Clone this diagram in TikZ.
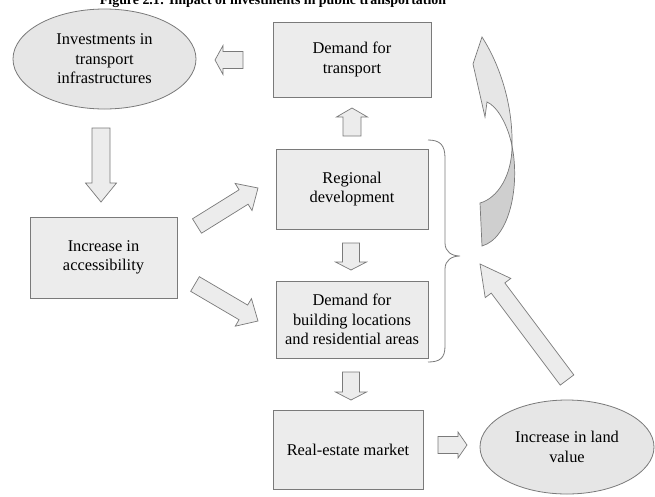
\documentclass[tikz,border=0pt]{standalone}
\usepackage{fontspec}
\setmainfont{Liberation Serif}
\usetikzlibrary{shapes.geometric,calc}
\definecolor{boxfill}{HTML}{ECECEC}
\definecolor{ellfill}{HTML}{E6E6E6}
\definecolor{edgec}{HTML}{7A7A7A}
\definecolor{darkfill}{HTML}{CFCFCF}
\tikzset{
  txt/.style={align=center, font=\fontsize{16.4}{19.5}\selectfont},
  box/.style={txt, draw=edgec, fill=boxfill, line width=0.8pt, inner sep=0pt},
  oval/.style={txt, ellipse, draw=edgec, fill=ellfill, line width=0.8pt, inner sep=0pt},
  blockarrow/.style={draw=edgec, fill=boxfill, line width=0.7pt, line join=miter},
  bracestyle/.style={draw=edgec, line width=0.8pt},
}
% #1 tail, #2 tip, #3 shaft half width, #4 head half width, #5 head length
\newcommand{\blockarr}[5]{%
  \path ($(#2)!#5!(#1)$) coordinate (hb);
  \draw[blockarrow] ($(#1)!#3!90:(#2)$) -- ($(hb)!#3!-90:(#1)$) -- ($(hb)!#4!-90:(#1)$)
    -- (#2) -- ($(hb)!#4!90:(#1)$) -- ($(hb)!#3!90:(#1)$) -- ($(#1)!#3!-90:(#2)$) -- cycle;
}
\begin{document}
\begin{tikzpicture}[x=1pt,y=-1pt]
\clip (0,0) rectangle (655,496);
\fill[white] (0,0) rectangle (655,496);

% title (cut off at top, as in the reference)
\node[font=\bfseries\fontsize{13.9}{16}\selectfont, anchor=base, inner sep=0pt] (title) at (273,4)
  {Figure 2.1: Impact of investments in public transportation};

% nodes
\node[oval, minimum width=183pt, minimum height=100pt] (inv) at (104.5,59)
  {Investments in\\transport\\infrastructures};
\node[box, minimum width=158pt, minimum height=75pt] (demT) at (352,59.5)
  {Demand for\\transport};
\node[box, minimum width=152pt, minimum height=80pt] (reg) at (352,189)
  {Regional\\development};
\node[box, minimum width=147pt, minimum height=81pt] (acc) at (103.5,257.5)
  {Increase in\\accessibility};
\node[box, minimum width=152pt, minimum height=77pt] (demB) at (352,319.5)
  {Demand for\\building locations\\and residential areas};
\node[box, minimum width=150pt, minimum height=79pt] (real) at (348,449.5)
  {Real-estate market};
\node[oval, minimum width=174pt, minimum height=94pt] (land) at (567,447)
  {Increase in land\\value};

% arrow ends
\coordinate (a1t) at (243,60);   \coordinate (a1h) at (215,60);
\coordinate (a2t) at (101,128);  \coordinate (a2h) at (101,202);
\coordinate (a3t) at (352,136);  \coordinate (a3h) at (352,108);
\coordinate (a4t) at (351,243);  \coordinate (a4h) at (351,270);
\coordinate (a5t) at (351,372);  \coordinate (a5h) at (351,400);
\coordinate (a6t) at (438,445);  \coordinate (a6h) at (467,445);
\coordinate (a7t) at (197,226);  \coordinate (a7h) at (258,188);
\coordinate (a8t) at (195,284);  \coordinate (a8h) at (258,321);
\coordinate (a9t) at (567,380);  \coordinate (a9h) at (480,264);

\blockarr{a1t}{a1h}{8.5pt}{14.5pt}{8pt}
\blockarr{a2t}{a2h}{9pt}{15.5pt}{19pt}
\blockarr{a3t}{a3h}{9pt}{15.5pt}{9pt}
\blockarr{a4t}{a4h}{8.5pt}{15.5pt}{8pt}
\blockarr{a5t}{a5h}{8.5pt}{15.5pt}{8pt}
\blockarr{a6t}{a6h}{8.5pt}{13pt}{9pt}
\blockarr{a7t}{a7h}{8.5pt}{16pt}{17pt}
\blockarr{a8t}{a8h}{8.5pt}{16pt}{17pt}
\blockarr{a9t}{a9h}{8.5pt}{16pt}{30pt}

% brace
\draw[bracestyle] (428,140) .. controls (440,140) and (445,145) .. (445,158)
  -- (445,243) .. controls (445,252) and (452,256) .. (460,256)
  .. controls (452,256) and (445,260) .. (445,269)
  -- (445,346) .. controls (445,358) and (440,362) .. (428,362);

% curved arrow
\draw[draw=edgec, fill=darkfill, line width=0.7pt, line join=miter]
  (512,146) .. controls (512,175) and (498,198) .. (480,203) -- (482,246)
  .. controls (510,238) and (520,185) .. (512,146) -- cycle;
\draw[draw=edgec, fill=ellfill, line width=0.7pt, line join=miter]
  (512,146) .. controls (508,125) and (497,106) .. (487,102) -- (485,117) -- (473,64) -- (482,37)
  .. controls (500,65) and (513,105) .. (512,146) -- cycle;
\end{tikzpicture}
\end{document}
